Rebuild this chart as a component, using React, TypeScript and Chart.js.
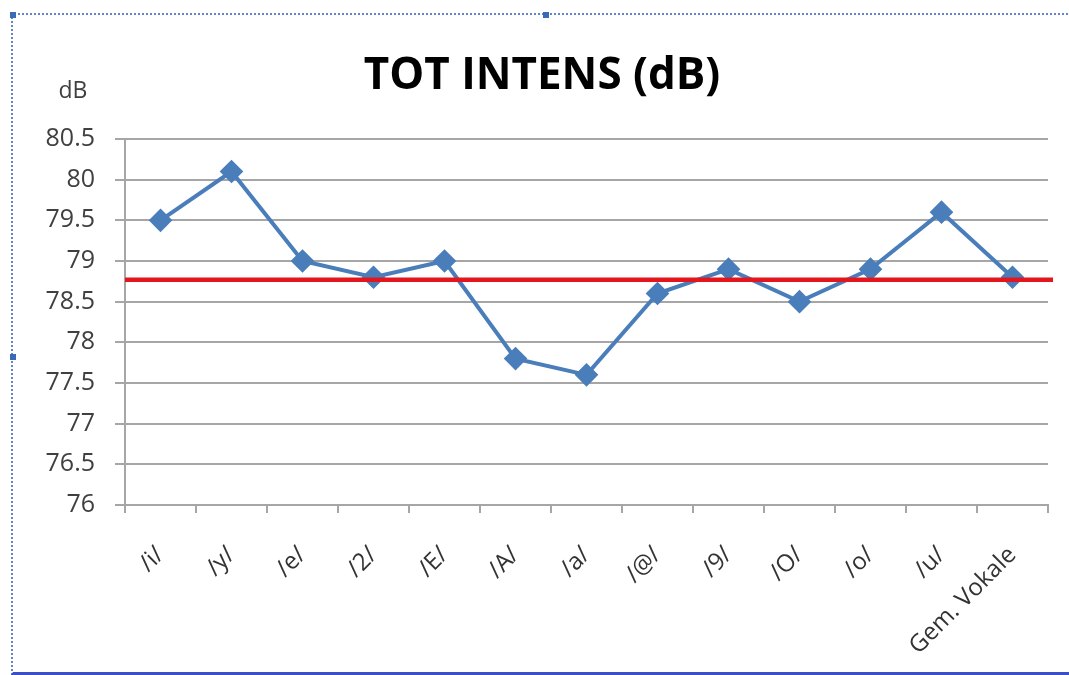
import React, { useEffect, useRef } from "react";
import { Chart, registerables } from "chart.js";

Chart.register(...registerables);

const categories = ["/i/", "/y/", "/e/", "/2/", "/E/", "/A/", "/a/", "/@/", "/9/", "/O/", "/o/", "/u/", "Gem. Vokale"];
const intensityValues = [79.5, 80.1, 79.0, 78.8, 79.0, 77.8, 77.6, 78.6, 78.9, 78.5, 78.9, 79.6, 78.8];
const meanValue = 78.77;
const yMin = 76;
const yMax = 80.5;
const yStep = 0.5;
const titleText = "TOT INTENS (dB)";
const unitText = "dB";

const FONT = "'Open Sans', 'Liberation Sans', sans-serif";

const overlayPlugin = {
  id: "overlay",
  afterDatasetsDraw(chart: any) {
    const { ctx, chartArea, scales } = chart;
    const y = scales.y.getPixelForValue(meanValue);
    ctx.save();
    ctx.strokeStyle = "#e3161e";
    ctx.lineWidth = 4.5;
    ctx.beginPath();
    ctx.moveTo(chartArea.left, y);
    ctx.lineTo(chartArea.right + 5, y);
    ctx.stroke();
    ctx.restore();
  },
  afterDraw(chart: any) {
    const { ctx } = chart;
    ctx.save();
    ctx.fillStyle = "#000000";
    ctx.font = `bold 44px ${FONT}`;
    ctx.textAlign = "center";
    ctx.textBaseline = "middle";
    ctx.fillText(titleText, 542, 76);
    ctx.fillStyle = "#404040";
    ctx.font = `23px ${FONT}`;
    ctx.fillText(unitText, 73, 91);
    ctx.restore();
  },
};

export default function App() {
  const ref = useRef<HTMLCanvasElement>(null);
  useEffect(() => {
    const chart = new Chart(ref.current!, {
      type: "line",
      data: {
        labels: categories,
        datasets: [
          {
            data: intensityValues,
            borderColor: "#4a7ebb",
            backgroundColor: "#4a7ebb",
            borderWidth: 4,
            pointStyle: "rectRot",
            pointRadius: 9,
            pointHoverRadius: 9,
            tension: 0,
          },
        ],
      },
      options: {
        responsive: false,
        animation: false,
        layout: { padding: { left: 0, right: 21, top: 139, bottom: 0 } },
        plugins: { legend: { display: false }, title: { display: false }, tooltip: { enabled: false } },
        scales: {
          x: {
            offset: true,
            grid: { display: true, offset: true, drawOnChartArea: false, drawTicks: true, tickLength: 8, color: "#a6a6a6", lineWidth: 2 },
            border: { display: true, color: "#a6a6a6", width: 2 },
            ticks: { minRotation: 45, maxRotation: 45, color: "#333333", font: { family: FONT, size: 24 }, padding: 28, autoSkip: false },
            afterFit(scale: any) {
              scale.height = 170;
            },
          },
          y: {
            min: yMin,
            max: yMax,
            grid: { color: "#a6a6a6", lineWidth: 2, tickLength: 10 },
            border: { display: true, color: "#a6a6a6", width: 2 },
            ticks: {
              stepSize: yStep,
              color: "#404040",
              font: { family: FONT, size: 25 },
              padding: 20,
              callback: (v: any) => String(Number(v)),
            },
            afterFit(scale: any) {
              scale.width = 125;
            },
          },
        },
      },
      plugins: [overlayPlugin],
    });
    return () => chart.destroy();
  }, []);

  const handle = (left: number, top: number) => (
    <div style={{ position: "absolute", left, top, width: 6, height: 6, background: "#3b6bb5" }} />
  );

  return (
    <div style={{ position: "absolute", left: 0, top: 0, width: 1069, height: 675, background: "#fff", overflow: "hidden" }}>
      <canvas ref={ref} width={1069} height={675} style={{ position: "absolute", left: 0, top: 0 }} />
      <div
        style={{
          position: "absolute",
          left: 11,
          top: 13,
          width: 1070,
          height: 657,
          borderTop: "2px dotted #5f85c6",
          borderLeft: "2px dotted #5f85c6",
          borderBottom: "3px solid #3d4fc4",
          pointerEvents: "none",
        }}
      />
      {handle(10, 12)}
      {handle(543, 12)}
      {handle(10, 354)}
    </div>
  );
}
